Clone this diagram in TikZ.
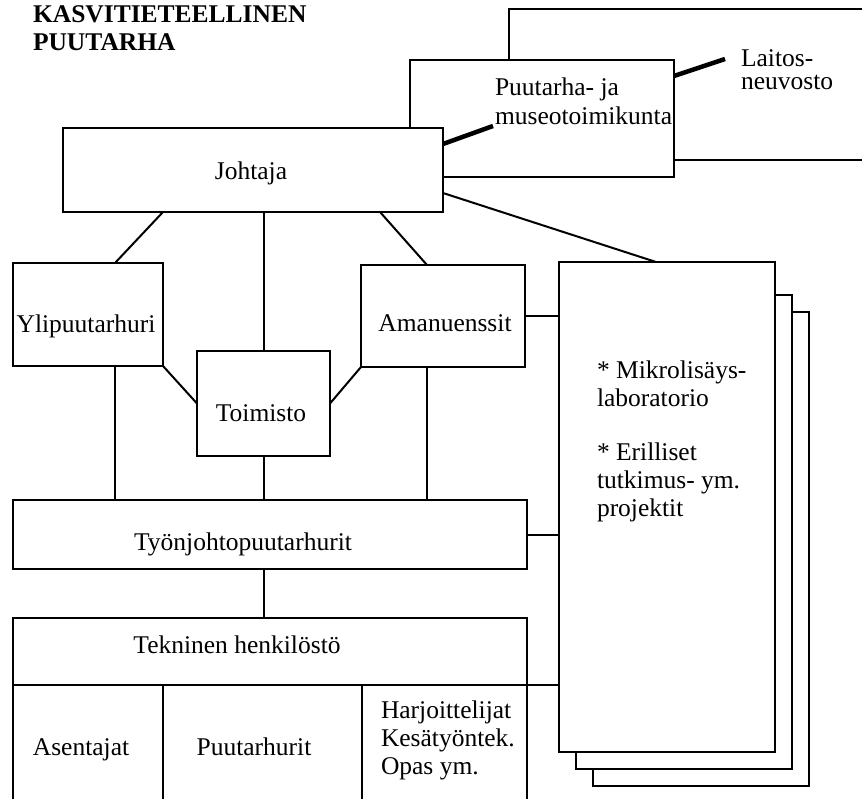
\documentclass[tikz,border=0pt]{standalone}
\usepackage{fontspec}
\setmainfont{Liberation Serif}

\begin{document}
\begin{tikzpicture}
  [x=1pt, y=-1pt, line width=2pt,
   every node/.style={font=\fontsize{25.5}{28}\selectfont, inner sep=0pt},
   box/.style={draw, fill=white, rectangle, outer sep=0pt},
   txt/.style={anchor=base},
   lines/.style={align=left, anchor=north west},
   heavy/.style={line width=4.5pt}]
  \useasboundingbox (0,0) rectangle (862,799);
  \node[lines, font=\bfseries\fontsize{25.5}{28}\selectfont] (title) at (32,5) {KASVITIETEELLINEN\\PUUTARHA};
  \node[box, minimum width=400pt, minimum height=151pt] (lts) at (709,84.5) {};
  \node[box, minimum width=264pt, minimum height=117pt] (pmt) at (542,118.5) {};
  \node[box, minimum width=380pt, minimum height=84pt] (joh) at (253,170) {};
  \node[box, minimum width=150pt, minimum height=103pt] (yli) at (88,314.5) {};
  \node[box, minimum width=133pt, minimum height=105pt] (tms) at (263.5,403.5) {};
  \node[box, minimum width=164pt, minimum height=102pt] (ama) at (443,316) {};
  \node[box, minimum width=514pt, minimum height=69pt] (tyo) at (270,534.5) {};
  \node[box, minimum width=514pt, minimum height=67pt] (tek) at (270,651.5) {};
  \node[box, minimum width=150pt, minimum height=140pt, anchor=north west] (ase) at (tek.south west) {};
  \node[box, minimum width=199pt, minimum height=140pt, anchor=north west] (puu) at (ase.north east) {};
  \node[box, minimum width=165pt, minimum height=140pt, anchor=north west] (har) at (puu.north east) {};
  \foreach \i in {2,1}
    \node[box, minimum width=216pt, minimum height=474pt] (prj\i) at (667+17*\i, 515+17*\i) {};
  \node[box, minimum width=216pt, minimum height=490pt] (prj0) at (667,507) {};

  \node[lines, font=\fontsize{25.5}{23}\selectfont] (t-lts) at (740,49) {Laitos-\\neuvosto};
  \node[lines, font=\fontsize{25.5}{29}\selectfont] (t-pmt) at (494,77) {Puutarha- ja\\museotoimikunta};
  \node[txt] (t-joh) at (251,180) {Johtaja};
  \node[txt] (t-yli) at (86,333) {Ylipuutarhuri};
  \node[txt] (t-tms) at (261,421) {Toimisto};
  \node[txt] (t-ama) at (445,332) {Amanuenssit};
  \node[txt] (t-tyo) at (243,550) {Työnjohtopuutarhurit};
  \node[txt] (t-tek) at (237,653) {Tekninen henkilöstö};
  \node[txt] (t-ase) at (81,755) {Asentajat};
  \node[txt] (t-puu) at (254,755) {Puutarhurit};
  \node[lines] (t-har) at (380,700) {Harjoittelijat\\Kesätyöntek.\\Opas ym.};
  \node[lines] (t-prj) at (596,360) {* Mikrolisäys-\\laboratorio\\[26pt]* Erilliset\\tutkimus- ym.\\projektit};

  \coordinate (yli-c) at ([xshift=27pt]yli.north);
  \coordinate (ama-c) at ([xshift=-16pt]ama.north);
  \draw ([xshift=100pt]joh.south west) -- (yli-c);
  \draw (tms.north |- joh.south) -- (tms.north);
  \draw ([xshift=-63pt]joh.south east) -- (ama-c);
  \draw (yli.south east) -- (tms.west);
  \draw (tms.east) -- (ama.south west);
  \draw (yli-c |- yli.south) -- (yli-c |- tyo.north);
  \draw (tms.south) -- (tms.south |- tyo.north);
  \draw (ama-c |- ama.south) -- (ama-c |- tyo.north);
  \draw (tms.south |- tyo.south) -- (tms.south |- tek.north);
  \draw (ama.east) -- (ama.east -| prj0.west);
  \draw (tyo.east) -- (tyo.east -| prj0.west);
  \draw (tek.south east) -- (tek.south east -| prj0.west);
  \draw ([yshift=19pt]joh.south east) -- ([xshift=-11pt]prj0.north);
  \draw[heavy] ([yshift=-16pt]joh.north east) -- ([xshift=83pt,yshift=-66pt]pmt.north west);
  \draw[heavy] ([yshift=-16pt]pmt.north east) -- ([xshift=216pt,yshift=-50pt]lts.north west);
\end{tikzpicture}
\end{document}
